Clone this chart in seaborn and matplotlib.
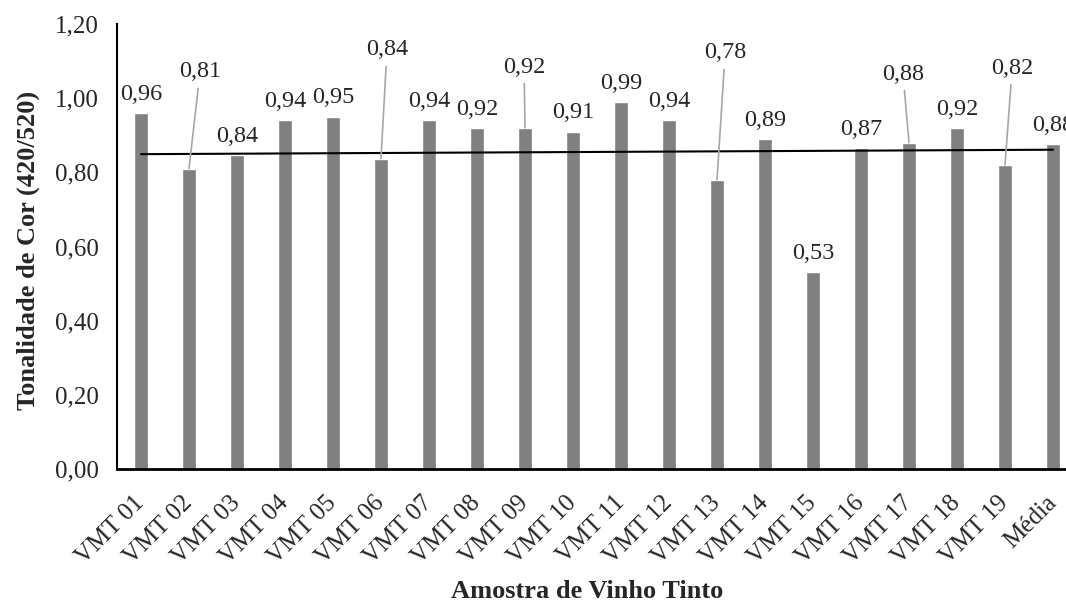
import numpy as np
import pandas as pd
import seaborn as sns
import matplotlib.pyplot as plt

# amostras e tonalidade de cor (420/520)
amostras = ["VMT 01", "VMT 02", "VMT 03", "VMT 04", "VMT 05", "VMT 06", "VMT 07",
            "VMT 08", "VMT 09", "VMT 10", "VMT 11", "VMT 12", "VMT 13", "VMT 14",
            "VMT 15", "VMT 16", "VMT 17", "VMT 18", "VMT 19", "Média"]
tonalidade = [0.96, 0.81, 0.846, 0.94, 0.95, 0.837, 0.94, 0.92, 0.92, 0.91,
              0.99, 0.94, 0.78, 0.89, 0.53, 0.866, 0.88, 0.92, 0.82, 0.876]
rotulos = ["0,96", "0,81", "0,84", "0,94", "0,95", "0,84", "0,94", "0,92", "0,92", "0,91",
           "0,99", "0,94", "0,78", "0,89", "0,53", "0,87", "0,88", "0,92", "0,82", "0,88"]
# linha de tendencia (inicio, fim)
tendencia = [0.849, 0.861]

# rotulos deslocados com linha de chamada: indice -> (x, y) do texto
chamadas = {1: (1.23, 1.071), 5: (5.125, 1.13), 8: (7.98, 1.084),
            12: (12.17, 1.122), 16: (15.875, 1.065), 18: (18.15, 1.081)}

df = pd.DataFrame({"amostra": amostras, "valor": tonalidade})

sns.set_style("white")
plt.rcParams["font.family"] = ["Liberation Serif", "DejaVu Serif"]

fig = plt.figure(figsize=(10.66, 6.04), dpi=100)
ax = fig.add_axes([117 / 1066, 1 - 469 / 604, 960 / 1066, 445 / 604])

sns.barplot(data=df, x="amostra", y="valor", color="#808080", saturation=1,
            width=0.3, ax=ax)

ax.plot([0, len(amostras) - 1], tendencia, color="black", lw=1.5)

for i, (v, r) in enumerate(zip(tonalidade, rotulos)):
    if i in chamadas:
        ax.annotate(r, xy=(i, v), xytext=chamadas[i], textcoords="data",
                    ha="center", va="center", fontsize=17.5,
                    arrowprops=dict(arrowstyle="-", color="#A6A6A6", lw=1.2,
                                    shrinkA=2, shrinkB=0))
    else:
        ax.annotate(r, xy=(i, v), xytext=(0, 6), textcoords="offset points",
                    ha="center", va="bottom", fontsize=17.5)

ax.set_ylim(0, 1.2)
ax.set_xlim(-0.5, len(amostras) - 0.5)
ax.set_yticks(np.arange(0, 1.21, 0.2))
ax.set_yticklabels([f"{t:.2f}".replace(".", ",") for t in np.arange(0, 1.21, 0.2)],
                   fontsize=18)
ax.set_xticks(range(len(amostras)))
ax.set_xticklabels(amostras, rotation=45, ha="right", va="center",
                   rotation_mode="anchor", fontsize=18)
ax.tick_params(axis="x", length=0, pad=22)
ax.tick_params(axis="y", length=0, pad=13)

for s in ["top", "right"]:
    ax.spines[s].set_visible(False)
ax.spines["left"].set_color("black")
ax.spines["left"].set_linewidth(1.5)
ax.spines["bottom"].set_color("black")
ax.spines["bottom"].set_linewidth(2)

ax.set_xlabel("")
ax.set_ylabel("")
fig.text(587 / 1066, 1 - 592 / 604, "Amostra de Vinho Tinto", ha="center", va="center",
         fontsize=19, fontweight="bold")
fig.text(28 / 1066, 1 - 250 / 604, "Tonalidade de Cor (420/520)", ha="center", va="center",
         rotation=90, fontsize=19, fontweight="bold")

fig.savefig("out.png", dpi=100)
